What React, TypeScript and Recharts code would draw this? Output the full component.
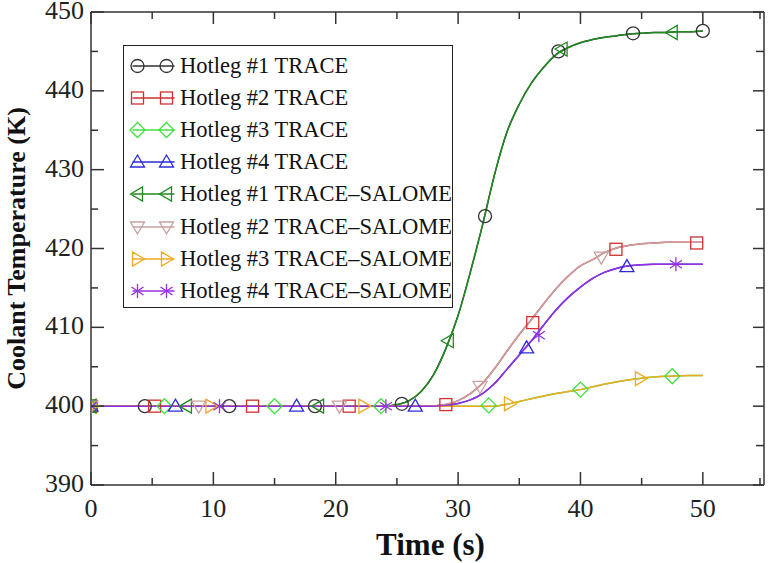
import React from "react";
import { ComposedChart, Line, Scatter, XAxis, YAxis, Legend, Label } from "recharts";

// time grid for the curves (s)
const times = [0, 5, 10, 15, 20, 22, 24, 25, 26, 27, 28, 29, 30, 31, 32, 33, 34, 35, 36, 37, 38, 39, 40, 41, 42, 43, 44, 45, 46, 47, 48, 49, 50];

// coolant temperature (K) per hotleg
const hotleg1 = [400, 400, 400, 400, 400, 400, 400, 400.2, 400.7, 401.9, 404, 407.3, 411.5, 417, 423, 429.5, 434.8, 438.3, 441.0, 443.0, 444.6, 445.5, 446.1, 446.5, 446.8, 447.0, 447.2, 447.3, 447.4, 447.4, 447.5, 447.5, 447.6];
const hotleg2 = [400, 400, 400, 400, 400, 400, 400, 400, 400, 400, 400.05, 400.2, 400.7, 401.6, 402.9, 404.8, 407.0, 409.1, 411.0, 413.0, 414.9, 416.5, 417.8, 418.6, 419.5, 420.1, 420.4, 420.6, 420.7, 420.8, 420.8, 420.8, 420.8];
const hotleg3 = [400, 400, 400, 400, 400, 400, 400, 400, 400, 400, 400, 400, 400, 400, 400, 400, 400.25, 400.6, 400.95, 401.3, 401.6, 401.85, 402.1, 402.45, 402.8, 403.1, 403.35, 403.55, 403.7, 403.8, 403.85, 403.9, 403.9];
const hotleg4 = [400, 400, 400, 400, 400, 400, 400, 400, 400, 400, 400, 400.1, 400.35, 400.8, 401.6, 402.9, 404.7, 406.5, 408.3, 410.3, 412.2, 413.8, 415.1, 416.2, 417.0, 417.5, 417.8, 417.95, 418.0, 418.0, 418.0, 418.0, 418.0];

// marker positions
const t1Times = [0, 4.4, 11.3, 18.3, 25.4, 32.2, 38.2, 44.3, 50];
const t1Vals = [400, 400, 400, 400, 400.3, 424.1, 445.0, 447.3, 447.6];
const t2Times = [0, 5.2, 13.2, 21.1, 29.0, 36.1, 42.9, 49.5];
const t2Vals = [400, 400, 400, 400, 400.2, 410.6, 419.9, 420.7];
const t3Times = [0, 6.0, 15.0, 23.7, 32.5, 40.0, 47.5];
const t3Vals = [400, 400, 400, 400, 400.1, 402.1, 403.8];
const t4Times = [0, 6.9, 16.8, 26.5, 35.6, 43.8];
const t4Vals = [400, 400, 400, 400, 407.4, 417.7];
const s1Times = [0, 7.8, 18.6, 29.2, 38.5, 47.5];
const s1Vals = [400, 400, 400, 408.3, 445.3, 447.4];
const s2Times = [0, 8.8, 20.3, 31.8, 41.7];
const s2Vals = [400, 400, 400, 402.5, 418.9];
const s3Times = [0, 9.8, 22.3, 34.2, 44.9];
const s3Vals = [400, 400, 400, 400.3, 403.5];
const s4Times = [0, 10.5, 24.1, 36.6, 47.8];
const s4Vals = [400, 400, 400, 409, 418];

const xTicks = [0, 5, 10, 15, 20, 25, 30, 35, 40, 45, 50, 55];
const yTicks = [390, 395, 400, 405, 410, 415, 420, 425, 430, 435, 440, 445, 450];

const AXIS = "#333";
const FONT = "'Liberation Serif', 'Times New Roman', serif";

type Kind = "circle" | "square" | "diamond" | "up" | "left" | "down" | "right" | "star";

const series = [
  { name: "Hotleg #1 TRACE", color: "#333333", kind: "circle" as Kind, curve: hotleg1, mt: t1Times, mv: t1Vals },
  { name: "Hotleg #2 TRACE", color: "#d22f2f", kind: "square" as Kind, curve: hotleg2, mt: t2Times, mv: t2Vals },
  { name: "Hotleg #3 TRACE", color: "#3ee03e", kind: "diamond" as Kind, curve: hotleg3, mt: t3Times, mv: t3Vals },
  { name: "Hotleg #4 TRACE", color: "#2b2bd8", kind: "up" as Kind, curve: hotleg4, mt: t4Times, mv: t4Vals },
  { name: "Hotleg #1 TRACE–SALOME", color: "#1f8a1f", kind: "left" as Kind, curve: hotleg1, mt: s1Times, mv: s1Vals },
  { name: "Hotleg #2 TRACE–SALOME", color: "#c9a0a0", kind: "down" as Kind, curve: hotleg2, mt: s2Times, mv: s2Vals },
  { name: "Hotleg #3 TRACE–SALOME", color: "#eeaa22", kind: "right" as Kind, curve: hotleg3, mt: s3Times, mv: s3Vals },
  { name: "Hotleg #4 TRACE–SALOME", color: "#9430e0", kind: "star" as Kind, curve: hotleg4, mt: s4Times, mv: s4Vals },
];

function Marker({ kind, cx, cy, color }: { kind: Kind; cx: number; cy: number; color: string }) {
  const st = { fill: "none", stroke: color, strokeWidth: 1.3 };
  switch (kind) {
    case "circle":
      return <circle cx={cx} cy={cy} r={6.5} {...st} />;
    case "square":
      return <rect x={cx - 6} y={cy - 6} width={12} height={12} {...st} />;
    case "diamond":
      return <polygon points={`${cx},${cy - 7.5} ${cx + 7.5},${cy} ${cx},${cy + 7.5} ${cx - 7.5},${cy}`} {...st} />;
    case "up":
      return <polygon points={`${cx},${cy - 7} ${cx + 7},${cy + 5} ${cx - 7},${cy + 5}`} {...st} />;
    case "down":
      return <polygon points={`${cx - 7},${cy - 5} ${cx + 7},${cy - 5} ${cx},${cy + 7}`} {...st} />;
    case "left":
      return <polygon points={`${cx - 7},${cy} ${cx + 5},${cy - 7} ${cx + 5},${cy + 7}`} {...st} />;
    case "right":
      return <polygon points={`${cx + 7},${cy} ${cx - 5},${cy - 7} ${cx - 5},${cy + 7}`} {...st} />;
    default:
      return (
        <g {...st}>
          <line x1={cx} y1={cy - 7} x2={cx} y2={cy + 7} />
          <line x1={cx - 6} y1={cy - 4} x2={cx + 6} y2={cy + 4} />
          <line x1={cx - 6} y1={cy + 4} x2={cx + 6} y2={cy - 4} />
        </g>
      );
  }
}

const tickText = { fontFamily: FONT, fontSize: 26, fill: "#222" };

const BottomTick = (p: any) => {
  const { x, y, payload } = p;
  const major = payload.value % 10 === 0;
  return (
    <g>
      <line x1={x} y1={y} x2={x} y2={y - (major ? 13 : 7)} stroke={AXIS} strokeWidth={1.5} />
      {major && payload.value <= 50 && (
        <text x={x} y={y + 32} textAnchor="middle" style={tickText}>
          {payload.value}
        </text>
      )}
    </g>
  );
};

const TopTick = (p: any) => {
  const { x, y, payload } = p;
  const major = payload.value % 10 === 0;
  return <line x1={x} y1={y} x2={x} y2={y + (major ? 12 : 7)} stroke={AXIS} strokeWidth={1.5} />;
};

const LeftTick = (p: any) => {
  const { x, y, payload } = p;
  const major = payload.value % 10 === 0;
  return (
    <g>
      <line x1={x} y1={y} x2={x + (major ? 13 : 7)} y2={y} stroke={AXIS} strokeWidth={1.5} />
      {major && (
        <text x={x - 7} y={y + 7} textAnchor="end" style={tickText}>
          {payload.value}
        </text>
      )}
    </g>
  );
};

const RightTick = (p: any) => {
  const { x, y, payload } = p;
  const major = payload.value % 10 === 0;
  return <line x1={x} y1={y} x2={x - (major ? 11 : 8)} y2={y} stroke={AXIS} strokeWidth={1.5} />;
};

const LegendBox = () => (
  <div
    style={{
      width: 330,
      height: 263,
      boxSizing: "border-box",
      border: "1.5px solid #222",
      background: "#fff",
      paddingTop: 4,
      fontFamily: FONT,
      fontSize: 22.5,
      color: "#111",
    }}
  >
    {series.map((s) => (
      <div key={s.name} style={{ height: 32.1, display: "flex", alignItems: "center", whiteSpace: "nowrap" }}>
        <svg width={56} height={32} style={{ flex: "none" }}>
          <line x1={8.5} y1={16} x2={50.5} y2={16} stroke={s.color} strokeWidth={1.3} />
          <Marker kind={s.kind} cx={13.5} cy={16} color={s.color} />
          <Marker kind={s.kind} cx={42.5} cy={16} color={s.color} />
        </svg>
        <span>{s.name}</span>
      </div>
    ))}
  </div>
);

export default function App() {
  return (
    <div style={{ position: "absolute", left: 0, top: 0, background: "#fff" }}>
      <ComposedChart width={768} height={563} margin={{ top: 0, right: 0, left: 0, bottom: 0 }}>
        <XAxis
          xAxisId={0}
          dataKey="t"
          type="number"
          domain={[0, 55]}
          ticks={xTicks}
          allowDataOverflow
          height={78}
          tickSize={0}
          tickMargin={0}
          tickLine={false}
          tick={<BottomTick />}
          axisLine={{ stroke: AXIS, strokeWidth: 1.5 }}
        >
          <Label
            content={({ viewBox }: any) => (
              <text
                x={viewBox.x + viewBox.width / 2 + 3}
                y={viewBox.y + 70}
                textAnchor="middle"
                style={{ fontFamily: FONT, fontWeight: "bold", fontSize: 31, fill: "#111" }}
              >
                Time (s)
              </text>
            )}
          />
        </XAxis>
        <XAxis
          xAxisId="top"
          orientation="top"
          type="number"
          dataKey="t"
          domain={[0, 55]}
          ticks={xTicks}
          allowDataOverflow
          height={12}
          tickSize={0}
          tickMargin={0}
          tickLine={false}
          tick={<TopTick />}
          axisLine={{ stroke: AXIS, strokeWidth: 1.5 }}
        />
        <YAxis
          yAxisId={0}
          dataKey="v"
          type="number"
          domain={[390, 450]}
          ticks={yTicks}
          allowDataOverflow
          width={91}
          tickSize={0}
          tickMargin={0}
          tickLine={false}
          tick={<LeftTick />}
          axisLine={{ stroke: AXIS, strokeWidth: 1.5 }}
        >
          <Label
            content={({ viewBox }: any) => (
              <text
                transform={`translate(${viewBox.x + 25},${viewBox.y + viewBox.height / 2}) rotate(-90)`}
                textAnchor="middle"
                style={{ fontFamily: FONT, fontWeight: "bold", fontSize: 26, fill: "#111" }}
              >
                Coolant Temperature (K)
              </text>
            )}
          />
        </YAxis>
        <YAxis
          yAxisId="right"
          orientation="right"
          dataKey="v"
          type="number"
          domain={[390, 450]}
          ticks={yTicks}
          allowDataOverflow
          width={4}
          tickSize={0}
          tickMargin={0}
          tickLine={false}
          tick={<RightTick />}
          axisLine={{ stroke: AXIS, strokeWidth: 1.5 }}
        />
        <Legend
          layout="vertical"
          align="center"
          verticalAlign="middle"
          wrapperStyle={{ left: 123, top: 45, width: 330, height: 263 }}
          content={() => <LegendBox />}
        />
        {series.map((s) => (
          <Line
            key={"l" + s.name}
            data={times.map((t, i) => ({ t, v: s.curve[i] }))}
            dataKey="v"
            type="monotone"
            stroke={s.color}
            strokeWidth={1.5}
            dot={false}
            activeDot={false}
            isAnimationActive={false}
            legendType="none"
          />
        ))}
        {series.map((s) => (
          <Scatter
            key={"m" + s.name}
            data={s.mt.map((t, i) => ({ t, v: s.mv[i] }))}
            dataKey="v"
            isAnimationActive={false}
            legendType="none"
            shape={(p: any) => <Marker kind={s.kind} cx={p.cx} cy={p.cy} color={s.color} />}
          />
        ))}
      </ComposedChart>
    </div>
  );
}
